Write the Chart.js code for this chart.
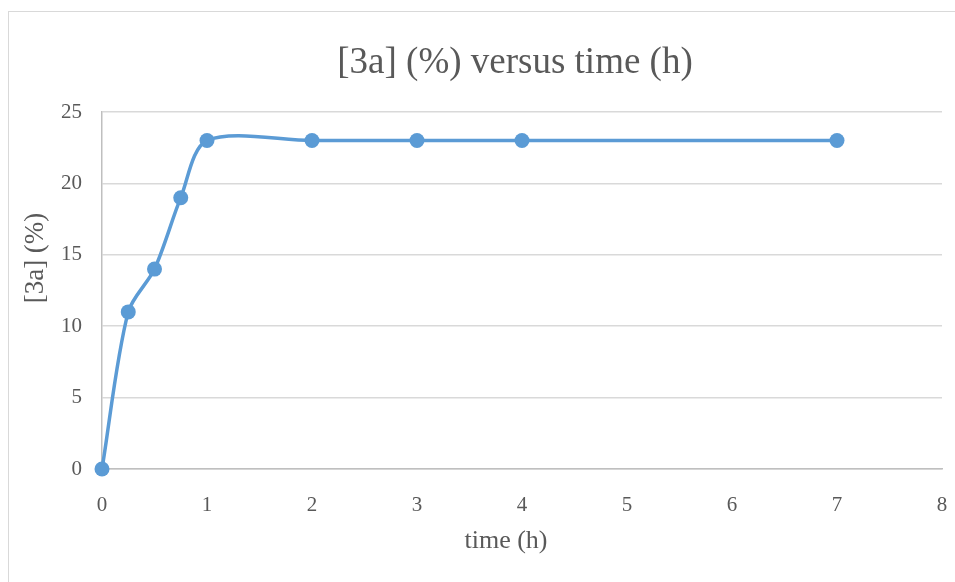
<!DOCTYPE html>
<html>
<head>
<meta charset="utf-8">
<script src="https://cdn.jsdelivr.net/npm/chart.js@4/dist/chart.umd.min.js"></script>
<style>
  html, body { margin: 0; padding: 0; background: #fff; overflow: hidden; }
  #wrap { position: relative; width: 955px; height: 582px; }
  #frame { position: absolute; left: 8px; top: 11px; width: 1000px; height: 1000px;
           border: 1.5px solid #d9d9d9; box-sizing: border-box; }
  canvas { position: absolute; left: 0; top: 0; }
</style>
</head>
<body>
<div id="wrap">
  <div id="frame"></div>
  <canvas id="c" width="955" height="582"></canvas>
</div>
<script>
// Reaction progress: product 3a yield over time
const timeHours = [0, 0.25, 0.5, 0.75, 1, 2, 3, 4, 7];
const yield3a = [0, 11, 14, 19, 23, 23, 23, 23, 23];
const xTicks = [0, 1, 2, 3, 4, 5, 6, 7, 8];
const yTicks = [0, 5, 10, 15, 20, 25];

const chartTitle = '[3a] (%) versus time (h)';
const xTitle = 'time (h)';
const yTitle = '[3a] (%)';

const serif = "'Liberation Serif', 'Times New Roman', serif";
const textGray = '#595959';
const lineBlue = '#5b9bd5';

const points = timeHours.map((t, i) => ({ x: t, y: yield3a[i] }));

// Chart title and axis titles, centred on the outer chart frame
const frameTexts = {
  id: 'frameTexts',
  afterDraw(chart) {
    const ctx = chart.ctx;
    ctx.save();
    ctx.fillStyle = textGray;
    ctx.textAlign = 'center';
    ctx.textBaseline = 'middle';
    ctx.font = `37px ${serif}`;
    ctx.fillText(chartTitle, 515, 63);
    ctx.font = `26px ${serif}`;
    ctx.fillText(xTitle, 506, 541);
    ctx.font = `27px ${serif}`;
    ctx.translate(36, 258);
    ctx.rotate(-Math.PI / 2);
    ctx.fillText(yTitle, 0, 0);
    ctx.restore();
  }
};

new Chart(document.getElementById('c'), {
  type: 'scatter',
  data: {
    datasets: [{
      label: yTitle,
      data: points,
      showLine: true,
      borderColor: lineBlue,
      backgroundColor: lineBlue,
      borderWidth: 3.5,
      tension: 0.3,
      pointRadius: 7.5,
      pointHoverRadius: 7.5,
      pointBorderWidth: 0,
      clip: false
    }]
  },
  plugins: [frameTexts],
  options: {
    responsive: false,
    animation: false,
    layout: { padding: { left: 0, right: 13, top: 112, bottom: 0 } },
    plugins: {
      legend: { display: false },
      tooltip: { enabled: false },
      title: { display: false }
    },
    scales: {
      x: {
        type: 'linear',
        min: 0, max: 8,
        afterBuildTicks: s => { s.ticks = xTicks.map(v => ({ value: v })); },
        afterFit: s => { s.height = 113; s.paddingLeft = 0; s.paddingRight = 0; },
        border: { color: '#bfbfbf', width: 1.5 },
        grid: { display: false, drawTicks: false },
        ticks: { color: textGray, padding: 24, font: { family: serif, size: 21 } }
      },
      y: {
        type: 'linear',
        min: 0, max: 25,
        afterBuildTicks: s => { s.ticks = yTicks.map(v => ({ value: v })); },
        afterFit: s => { s.width = 102; s.paddingTop = 0; s.paddingBottom = 0; },
        border: { color: '#bfbfbf', width: 1.5 },
        grid: { color: '#d9d9d9', lineWidth: 1.5, drawTicks: false },
        ticks: { color: textGray, padding: 20, font: { family: serif, size: 21 } }
      }
    }
  }
});
</script>
</body>
</html>
